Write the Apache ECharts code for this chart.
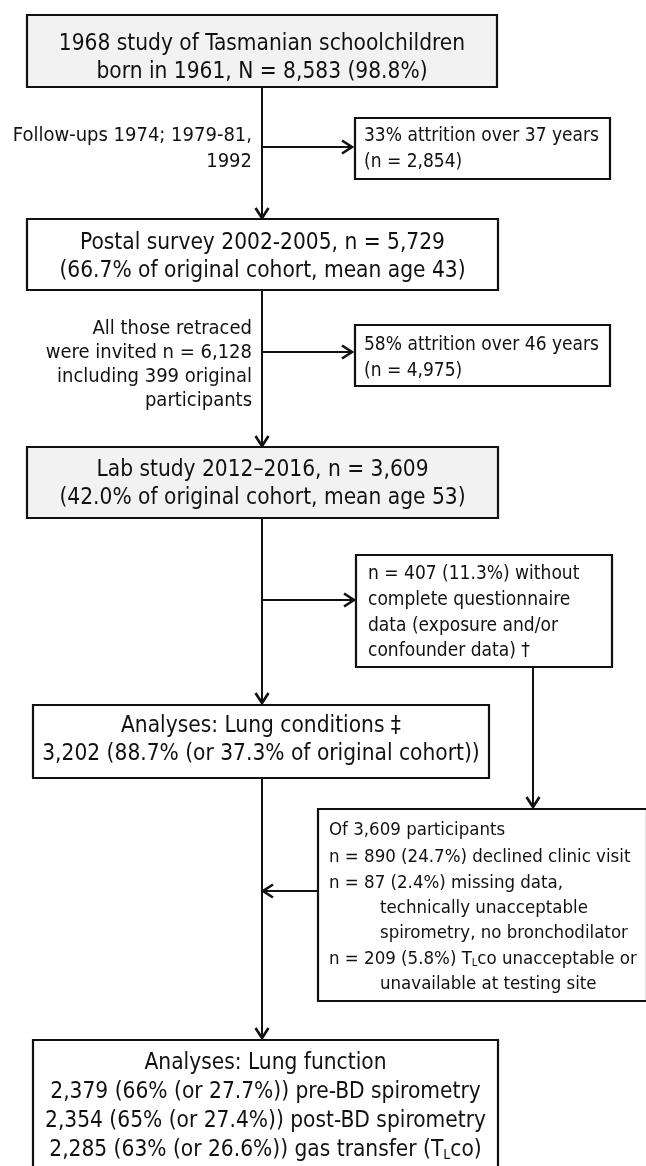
<!DOCTYPE html>
<html>
<head>
<meta charset="utf-8">
<script src="https://cdn.jsdelivr.net/npm/echarts@6/dist/echarts.min.js"></script>
<style>
html, body { margin: 0; padding: 0; background: #fff; }
#chart { width: 646px; height: 1166px; }
</style>
</head>
<body>
<div id="chart"></div>
<script>
// ---- flow content ----
const cohortBoxes = [
    ['1968 study of Tasmanian schoolchildren', 'born in 1961, N = 8,583 (98.8%)'],
    ['Postal survey 2002-2005, n = 5,729', '(66.7% of original cohort, mean age 43)'],
    ['Lab study 2012\u20132016, n = 3,609', '(42.0% of original cohort, mean age 53)'],
    ['Analyses: Lung conditions \u2021', '3,202 (88.7% (or 37.3% of original cohort))'],
    ['Analyses: Lung function', '2,379 (66% (or 27.7%)) pre-BD spirometry',
        '2,354 (65% (or 27.4%)) post-BD spirometry', '2,285 (63% (or 26.6%)) gas transfer (T{sub|L}co)']
];
const cohortShaded = [true, false, true, false, false];

const followUpNotes = [
    ['Follow-ups 1974; 1979-81,', '1992'],
    ['All those retraced', 'were invited n = 6,128', 'including 399 original', 'participants']
];

const attritionNotes = [
    ['33% attrition over 37 years', '(n = 2,854)'],
    ['58% attrition over 46 years', '(n = 4,975)'],
    ['n = 407 (11.3%) without', 'complete questionnaire', 'data (exposure and/or', 'confounder data) \u2020']
];

const exclusionLines = [
    'Of 3,609 participants',
    'n = 890 (24.7%) declined clinic visit',
    'n = 87 (2.4%) missing data,',
    'technically unacceptable',
    'spirometry, no bronchodilator',
    'n = 209 (5.8%) T{sub|L}co unacceptable or',
    'unavailable at testing site'
];
const exclusionIndent = [0, 0, 0, 1, 1, 0, 1];

// ---- layout (page units, y down) ----
const cohortRects = [[27, 15, 497, 87], [27, 219, 498, 290], [27, 447, 498, 518], [33, 705, 489, 778], [33, 1040, 498, 1167]];
const cohortLineY = [[44, 72], [243, 271], [470, 498], [726, 754], [1063, 1092, 1121, 1150]];
const noteLineY = [[136, 162], [329, 353, 377, 401]];
const attritionRects = [[355, 118, 610, 179], [355, 325, 610, 386], [356, 555, 612, 667]];
const attritionLineY = [[136, 162], [345, 371], [574, 600, 626, 651]];
const exclusionRect = [318, 809, 647, 1001];
const exclusionLineY = [830, 857, 883, 908, 933, 959, 984];
const arrows = [
    [262, 87, 262, 218], [262, 147, 352, 147],
    [262, 290, 262, 446], [262, 352, 352, 352],
    [262, 518, 262, 703], [262, 600, 354, 600],
    [533, 667, 533, 807], [318, 891, 263, 891],
    [262, 778, 262, 1038]
];

const FONT = "'DejaVu Sans Condensed', 'Liberation Sans Narrow', sans-serif";

function textEl(api, str, x, y, size, align) {
    const p = api.coord([x, y]);
    return {
        type: 'text',
        x: p[0], y: p[1],
        style: {
            text: str,
            fontFamily: FONT,
            fontSize: size,
            fill: '#111',
            align: align, textAlign: align,
            verticalAlign: 'middle', textVerticalAlign: 'middle',
            rich: {
                sub: { fontSize: Math.round(size * 0.6), padding: [Math.round(size * 0.45), 0, 0, 0], lineHeight: Math.round(size * 0.7), fontFamily: FONT, fill: '#111' }
            }
        }
    };
}

function rectEl(api, r, fill) {
    const a = api.coord([r[0], r[1]]);
    const b = api.coord([r[2], r[3]]);
    return {
        type: 'rect',
        shape: { x: a[0], y: a[1], width: b[0] - a[0], height: b[1] - a[1] },
        style: { fill: fill, stroke: '#111', lineWidth: 2.2 }
    };
}

const option = {
    animation: false,
    backgroundColor: '#fff',
    grid: { left: 0, right: 0, top: 0, bottom: 0 },
    xAxis: { type: 'value', min: 0, max: 646, show: false },
    yAxis: { type: 'value', min: 0, max: 1166, inverse: true, show: false },
    series: [{
        // arrows
        type: 'custom',
        coordinateSystem: 'cartesian2d',
        data: arrows,
        silent: true,
        renderItem: function (params, api) {
            const a = api.coord([api.value(0), api.value(1)]);
            const b = api.coord([api.value(2), api.value(3)]);
            const dx = b[0] - a[0], dy = b[1] - a[1];
            const len = Math.sqrt(dx * dx + dy * dy);
            const ux = dx / len, uy = dy / len;
            const hl = 10, hw = 6.5;
            const back = [b[0] - ux * hl, b[1] - uy * hl];
            return {
                type: 'group',
                children: [{
                    type: 'line',
                    shape: { x1: a[0], y1: a[1], x2: b[0] - ux, y2: b[1] - uy },
                    style: { stroke: '#111', lineWidth: 2 }
                }, {
                    type: 'polyline',
                    shape: { points: [[back[0] - uy * hw, back[1] + ux * hw], [b[0], b[1]], [back[0] + uy * hw, back[1] - ux * hw]] },
                    style: { stroke: '#111', lineWidth: 2.6, fill: null }
                }]
            };
        }
    }, {
        // cohort boxes
        type: 'custom',
        coordinateSystem: 'cartesian2d',
        data: cohortRects,
        silent: true,
        renderItem: function (params, api) {
            const i = params.dataIndex;
            const cx = (api.value(0) + api.value(2)) / 2;
            const kids = [rectEl(api, [api.value(0), api.value(1), api.value(2), api.value(3)], cohortShaded[i] ? '#f2f2f2' : '#fff')];
            cohortBoxes[i].forEach(function (t, j) {
                kids.push(textEl(api, t, cx, cohortLineY[i][j], 22.5, 'center'));
            });
            return { type: 'group', children: kids };
        }
    }, {
        // attrition boxes
        type: 'custom',
        coordinateSystem: 'cartesian2d',
        data: attritionRects,
        silent: true,
        renderItem: function (params, api) {
            const i = params.dataIndex;
            const kids = [rectEl(api, [api.value(0), api.value(1), api.value(2), api.value(3)], '#fff')];
            attritionNotes[i].forEach(function (t, j) {
                kids.push(textEl(api, t, api.value(0) + (i === 2 ? 12 : 9), attritionLineY[i][j], 19, 'left'));
            });
            return { type: 'group', children: kids };
        }
    }, {
        // follow-up notes left of the main line
        type: 'custom',
        coordinateSystem: 'cartesian2d',
        data: noteLineY.map(function (ys) { return [252, ys[0]]; }),
        silent: true,
        renderItem: function (params, api) {
            const i = params.dataIndex;
            return {
                type: 'group',
                children: followUpNotes[i].map(function (t, j) {
                    return textEl(api, t, api.value(0), noteLineY[i][j], 20, 'right');
                })
            };
        }
    }, {
        // exclusion box
        type: 'custom',
        coordinateSystem: 'cartesian2d',
        data: [exclusionRect],
        silent: true,
        renderItem: function (params, api) {
            const kids = [rectEl(api, [api.value(0), api.value(1), api.value(2), api.value(3)], '#fff')];
            exclusionLines.forEach(function (t, j) {
                kids.push(textEl(api, t, api.value(0) + (exclusionIndent[j] ? 62 : 11), exclusionLineY[j], 18.5, 'left'));
            });
            return { type: 'group', children: kids };
        }
    }]
};

const chart = echarts.init(document.getElementById('chart'), null, { renderer: 'canvas' });
chart.setOption(option);
</script>
</body>
</html>
